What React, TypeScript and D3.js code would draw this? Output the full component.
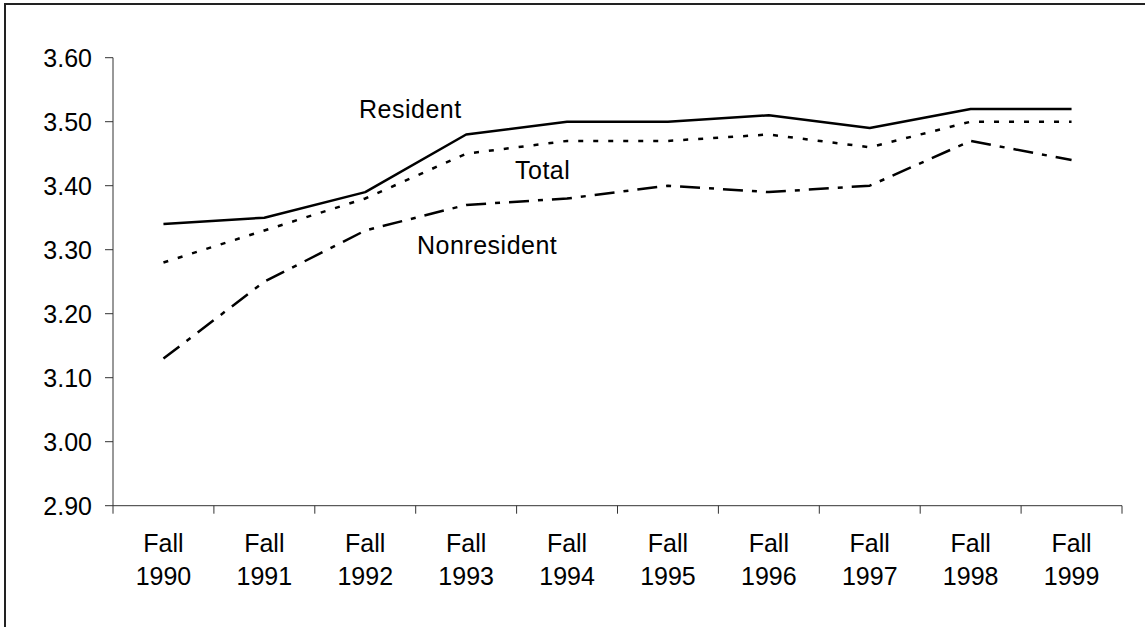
import React from "react";
import * as d3 from "d3";

const categories = ["1990", "1991", "1992", "1993", "1994", "1995", "1996", "1997", "1998", "1999"];
const resident = [3.34, 3.35, 3.39, 3.48, 3.5, 3.5, 3.51, 3.49, 3.52, 3.52];
const total = [3.28, 3.33, 3.38, 3.45, 3.47, 3.47, 3.48, 3.46, 3.5, 3.5];
const nonresident = [3.13, 3.25, 3.33, 3.37, 3.38, 3.4, 3.39, 3.4, 3.47, 3.44];
const yTicks = [2.9, 3.0, 3.1, 3.2, 3.3, 3.4, 3.5, 3.6];

const W = 1145;
const H = 627;
const FONT = "'Liberation Sans', Arial, sans-serif";

export default function App() {
  const x = d3.scaleBand<string>().domain(categories).range([113, 1122]);
  const y = d3.scaleLinear().domain([2.9, 3.6]).range([505.7, 57.7]);
  const line = d3
    .line<number>()
    .x((_, i) => (x(categories[i]) as number) + x.bandwidth() / 2)
    .y((d) => y(d));

  const series = [
    { name: "Resident", values: resident, dash: undefined as string | undefined, lx: 359, ly: 118 },
    { name: "Total", values: total, dash: "5,10", lx: 515, ly: 179 },
    { name: "Nonresident", values: nonresident, dash: "20,9,5,9", lx: 417, ly: 254 },
  ];

  const boundaries = d3.range(categories.length + 1).map((i) => 113 + i * x.step());

  return (
    <div style={{ position: "fixed", left: 0, top: 0 }}>
      <svg width={W} height={H} style={{ display: "block", background: "#fff" }}>
        <rect x={5} y={4} width={W + 10} height={H + 10} fill="#fff" stroke="#222" strokeWidth={2} />
        {/* Y axis */}
        <line x1={113} x2={113} y1={y(3.6)} y2={y(2.9)} stroke="#333" strokeWidth={1} />
        {yTicks.map((t) => (
          <g key={t}>
            <line x1={105} x2={113} y1={y(t)} y2={y(t)} stroke="#333" strokeWidth={1} />
            <text
              x={92}
              y={y(t) + 8.8}
              textAnchor="end"
              fontFamily={FONT}
              fontSize={25}
              fill="#000"
            >
              {t.toFixed(2)}
            </text>
          </g>
        ))}
        {/* X axis */}
        <line x1={113} x2={1122} y1={y(2.9)} y2={y(2.9)} stroke="#333" strokeWidth={1} />
        {boundaries.map((b, i) => (
          <line key={i} x1={b} x2={b} y1={y(2.9)} y2={y(2.9) + 8} stroke="#333" strokeWidth={1} />
        ))}
        {categories.map((c) => {
          const cx = (x(c) as number) + x.bandwidth() / 2;
          return (
            <text key={c} textAnchor="middle" fontFamily={FONT} fontSize={25} fill="#000">
              <tspan x={cx} y={551.7}>Fall</tspan>
              <tspan x={cx} y={585}>{c}</tspan>
            </text>
          );
        })}
        {/* Lines */}
        {series.map((s) => (
          <g key={s.name}>
            <path
              d={line(s.values) || ""}
              fill="none"
              stroke="#000"
              strokeWidth={2.5}
              strokeDasharray={s.dash}
              strokeLinejoin="round"
            />
            <text
              x={s.lx}
              y={s.ly}
              fontFamily={FONT}
              fontSize={25}
              letterSpacing={0.5}
              fill="#000"
            >
              {s.name}
            </text>
          </g>
        ))}
      </svg>
    </div>
  );
}
